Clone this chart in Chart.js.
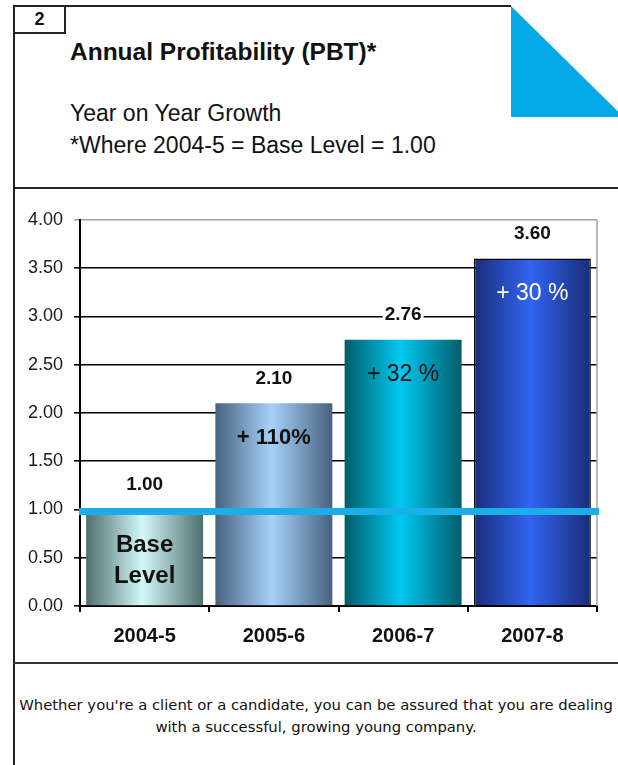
<!DOCTYPE html>
<html>
<head>
<meta charset="utf-8">
<script src="https://cdn.jsdelivr.net/npm/chart.js@4.4.1/dist/chart.umd.min.js"></script>
<style>
  html, body { margin: 0; padding: 0; background: #fff; }
  body { width: 618px; height: 765px; position: relative; overflow: hidden; font-family: "Liberation Sans", Arial, sans-serif; color: #111; }
  .abs { position: absolute; line-height: 1; white-space: nowrap; }
  #frameLeft { left: 13px; top: 5px; width: 2px; height: 760px; background: #222; }
  #frameTop { left: 13px; top: 5px; width: 498px; height: 2px; background: #222; }
  #rule1 { left: 13px; top: 187px; width: 605px; height: 2px; background: #222; }
  #rule2 { left: 13px; top: 662px; width: 605px; height: 2px; background: #333; }
  #numBox { left: 13px; top: 5px; width: 49px; height: 25px; border: 2px solid #222; box-sizing: content-box; }
  #num { left: 13px; top: 10px; width: 53px; text-align: center; font-size: 18px; font-weight: bold; }
  #title { left: 70px; top: 40px; font-size: 24.5px; font-weight: bold; }
  #sub1 { left: 70px; top: 102px; font-size: 23px; }
  #sub2 { left: 70px; top: 134px; font-size: 23px; }
  #corner { left: 511px; top: 6px; width: 107px; height: 111px; background: #02a9e6; clip-path: polygon(0 0, 100% 95%, 100% 100%, 0 100%); }
  #footer { left: 14px; top: 694px; width: 604px; text-align: center; font-family: "DejaVu Sans", sans-serif; font-size: 14.8px; line-height: 22px; white-space: normal; color: #111; }
  #chartBox { position: absolute; left: 14px; top: 190px; width: 604px; height: 472px; }
</style>
</head>
<body>
<div class="abs" id="frameLeft"></div>
<div class="abs" id="frameTop"></div>
<div class="abs" id="numBox"></div>
<div class="abs" id="num">2</div>
<div class="abs" id="title">Annual Profitability (PBT)*</div>
<div class="abs" id="sub1">Year on Year Growth</div>
<div class="abs" id="sub2">*Where 2004-5 = Base Level = 1.00</div>
<div class="abs" id="corner"></div>
<div class="abs" id="rule1"></div>
<div id="chartBox"><canvas id="myChart" width="604" height="472"></canvas></div>
<div class="abs" id="rule2"></div>
<div class="abs" id="footer">Whether you're a client or a candidate, you can be assured that you are dealing<br>with a successful, growing young company.</div>

<script>
// data
const years = ['2004-5', '2005-6', '2006-7', '2007-8'];
const profit = [1.00, 2.10, 2.76, 3.60];
const growthLabels = [['Base', 'Level'], ['+ 110%'], ['+ 32 %'], ['+ 30 %']];
const baseLevel = 1.00;
const yTicks = [0, 0.5, 1, 1.5, 2, 2.5, 3, 3.5, 4];

// bar shading: dark edges, light middle
const edgeColors = ['#4f706e', '#48627f', '#005d6b', '#1a2d78'];
const midColors = ['#d2f8f8', '#a6d2fa', '#00c9f1', '#3164f2'];
const innerColors = ['#111', '#111', '#111', '#fff'];

function barFill(ctx) {
  const chart = ctx.chart;
  if (!chart.chartArea) return midColors[ctx.dataIndex];
  const xs = chart.scales.x;
  const cx = xs.getPixelForValue(ctx.dataIndex);
  const half = xs.width / years.length * 0.905 / 2;
  const g = chart.ctx.createLinearGradient(cx - half, 0, cx + half, 0);
  g.addColorStop(0, edgeColors[ctx.dataIndex]);
  g.addColorStop(0.48, midColors[ctx.dataIndex]);
  g.addColorStop(1, edgeColors[ctx.dataIndex]);
  return g;
}

const overlays = {
  id: 'overlays',
  beforeDatasetsDraw(chart) {
    const { ctx, chartArea } = chart;
    ctx.save();
    ctx.strokeStyle = '#a0a0a0';
    ctx.lineWidth = 1.5;
    ctx.beginPath();
    ctx.moveTo(chartArea.right, chartArea.top);
    ctx.lineTo(chartArea.right, chartArea.bottom);
    ctx.stroke();
    ctx.restore();
  },
  afterDatasetsDraw(chart) {
    const { ctx, chartArea } = chart;
    const ys = chart.scales.y;
    const meta = chart.getDatasetMeta(0);
    ctx.save();
    // base level line
    ctx.strokeStyle = '#1aafe9';
    ctx.lineWidth = 7;
    ctx.beginPath();
    const yb = ys.getPixelForValue(baseLevel) + 2;
    ctx.moveTo(chartArea.left - 1, yb);
    ctx.lineTo(chartArea.right + 2, yb);
    ctx.stroke();

    ctx.textAlign = 'center';
    ctx.textBaseline = 'middle';
    meta.data.forEach((bar, i) => {
      // value above bar
      ctx.font = 'bold 19px "Liberation Sans", Arial, sans-serif';
      const txt = profit[i].toFixed(2);
      const w = ctx.measureText(txt).width;
      ctx.fillStyle = '#fff';
      ctx.fillRect(bar.x - w / 2 - 2, bar.y - 35, w + 4, 20);
      ctx.fillStyle = '#111';
      ctx.fillText(txt, bar.x, bar.y - 25);

      // growth label inside bar
      const lines = growthLabels[i];
      ctx.fillStyle = innerColors[i];
      if (lines.length > 1) {
        ctx.font = 'bold 24px "Liberation Sans", Arial, sans-serif';
        lines.forEach((l, k) => ctx.fillText(l, bar.x, bar.y + 36 + k * 31));
      } else {
        ctx.font = (i === 1 ? 'bold 22px' : '23px') + ' "Liberation Sans", Arial, sans-serif';
        ctx.fillText(lines[0], bar.x, bar.y + 35);
      }
    });
    ctx.restore();
  }
};

const ctx = document.getElementById('myChart').getContext('2d');
const myChart = new Chart(ctx, {
  type: 'bar',
  data: {
    labels: years,
    datasets: [{
      data: profit,
      backgroundColor: barFill,
      borderColor: '#000',
      borderWidth: [0, 0, 0, 1.5],
      borderSkipped: 'bottom',
      barPercentage: 0.905,
      categoryPercentage: 1
    }]
  },
  options: {
    responsive: false,
    animation: false,
    layout: { padding: { top: 30, right: 21, left: 0, bottom: 0 } },
    plugins: { legend: { display: false }, tooltip: { enabled: false } },
    scales: {
      x: {
        afterFit(scale) { scale.height = 56; },
        grid: { drawOnChartArea: false, color: '#000', lineWidth: 2, tickLength: 6 },
        border: { color: '#000', width: 2 },
        ticks: { color: '#111', padding: 12, font: { family: '"Liberation Sans", Arial, sans-serif', size: 20, weight: 'bold' } }
      },
      y: {
        min: 0,
        max: 4,
        afterFit(scale) { scale.width = 66; },
        afterBuildTicks(scale) { scale.ticks = yTicks.map(v => ({ value: v })); },
        grid: {
          color: c => (c.tick && c.tick.value === 4 ? '#a0a0a0' : '#000'),
          lineWidth: 1.6,
          tickLength: 6
        },
        border: { color: '#000', width: 2 },
        ticks: {
          color: '#1a1a1a',
          padding: 11,
          font: { family: '"Liberation Sans", Arial, sans-serif', size: 18 },
          callback: v => Number(v).toFixed(2)
        }
      }
    }
  },
  plugins: [overlays]
});
</script>
</body>
</html>
